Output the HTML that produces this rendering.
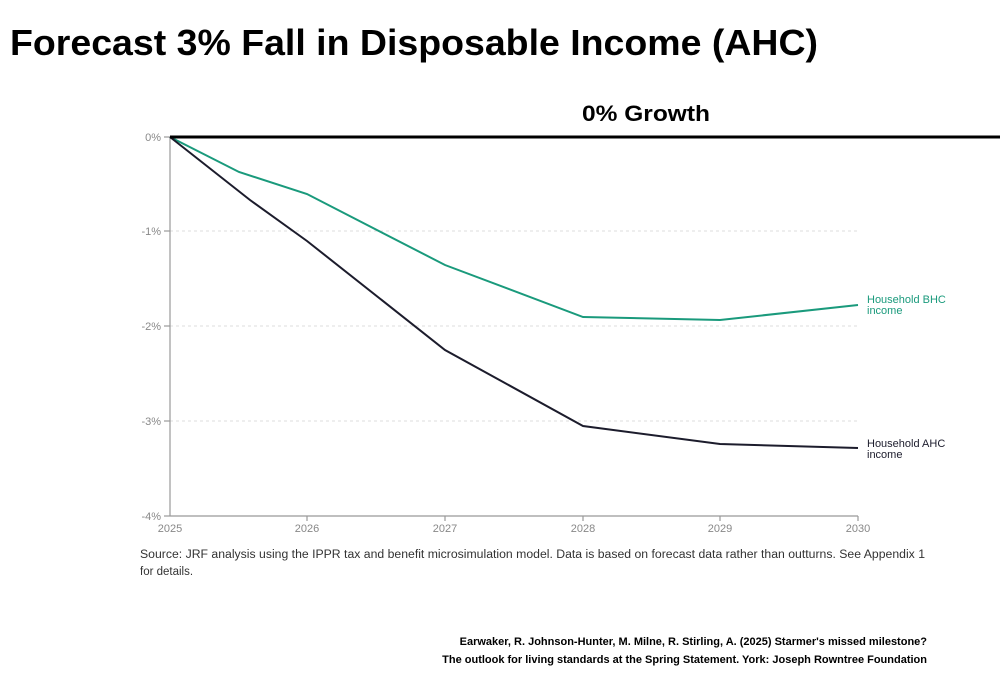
<!DOCTYPE html>
<html><head><style>
body{margin:0;width:1000px;height:682px;background:#fff;overflow:hidden;font-family:"Liberation Sans",sans-serif;}
</style></head><body>
<svg width="1000" height="682" xmlns="http://www.w3.org/2000/svg" font-family="Liberation Sans, sans-serif">
<text x="10" y="55" font-size="36" font-weight="bold" fill="#000" textLength="808" lengthAdjust="spacingAndGlyphs">Forecast 3% Fall in Disposable Income (AHC)</text>
<text x="582" y="121" font-size="22" font-weight="bold" fill="#000" textLength="128" lengthAdjust="spacingAndGlyphs">0% Growth</text>
<g stroke="#ddd" stroke-dasharray="3,3" stroke-width="1">
<line x1="170" y1="231" x2="858" y2="231"/><line x1="170" y1="326" x2="858" y2="326"/><line x1="170" y1="421" x2="858" y2="421"/>
</g>
<g stroke="#999" stroke-width="1.2">
<line x1="170" y1="137" x2="170" y2="516"/><line x1="170" y1="516" x2="858" y2="516"/>
<line x1="164" y1="137" x2="170" y2="137"/><line x1="164" y1="231" x2="170" y2="231"/><line x1="164" y1="326" x2="170" y2="326"/><line x1="164" y1="421" x2="170" y2="421"/><line x1="164" y1="516" x2="170" y2="516"/>
<line x1="307" y1="516" x2="307" y2="521"/><line x1="445" y1="516" x2="445" y2="521"/><line x1="583" y1="516" x2="583" y2="521"/><line x1="720" y1="516" x2="720" y2="521"/><line x1="858" y1="516" x2="858" y2="521"/>
</g>
<g font-size="11" fill="#888" text-anchor="end">
<text x="161" y="141">0%</text><text x="161" y="235">-1%</text><text x="161" y="330">-2%</text><text x="161" y="425">-3%</text><text x="161" y="520">-4%</text>
</g>
<g font-size="11" fill="#888" text-anchor="middle">
<text x="170" y="532">2025</text><text x="307" y="532">2026</text><text x="445" y="532">2027</text><text x="583" y="532">2028</text><text x="720" y="532">2029</text><text x="858" y="532">2030</text>
</g>
<polyline fill="none" stroke="#1a9a7c" stroke-width="2" points="170,137 239,172 307,194 445,265 583,317 720,320 858,305"/>
<polyline fill="none" stroke="#1c1c2c" stroke-width="2" points="170,137 250,200 307,241 445,350 583,426 720,444 858,448"/>
<line x1="170" y1="137" x2="1000" y2="137" stroke="#000" stroke-width="3"/>
<g font-size="11" fill="#1a9a7c"><text x="867" y="303">Household BHC</text><text x="867" y="314">income</text></g>
<g font-size="11" fill="#1c1c2c"><text x="867" y="447">Household AHC</text><text x="867" y="458">income</text></g>
<g font-size="11.5" fill="#333"><text x="140" y="558" textLength="785" lengthAdjust="spacingAndGlyphs">Source: JRF analysis using the IPPR tax and benefit microsimulation model. Data is based on forecast data rather than outturns. See Appendix 1</text><text x="140" y="575">for details.</text></g>
<g font-size="11" font-weight="bold" fill="#000" text-anchor="end"><text x="927" y="645">Earwaker, R. Johnson-Hunter, M. Milne, R. Stirling, A. (2025) Starmer's missed milestone?</text><text x="927" y="663">The outlook for living standards at the Spring Statement. York: Joseph Rowntree Foundation</text></g>
</svg>
</body></html>
